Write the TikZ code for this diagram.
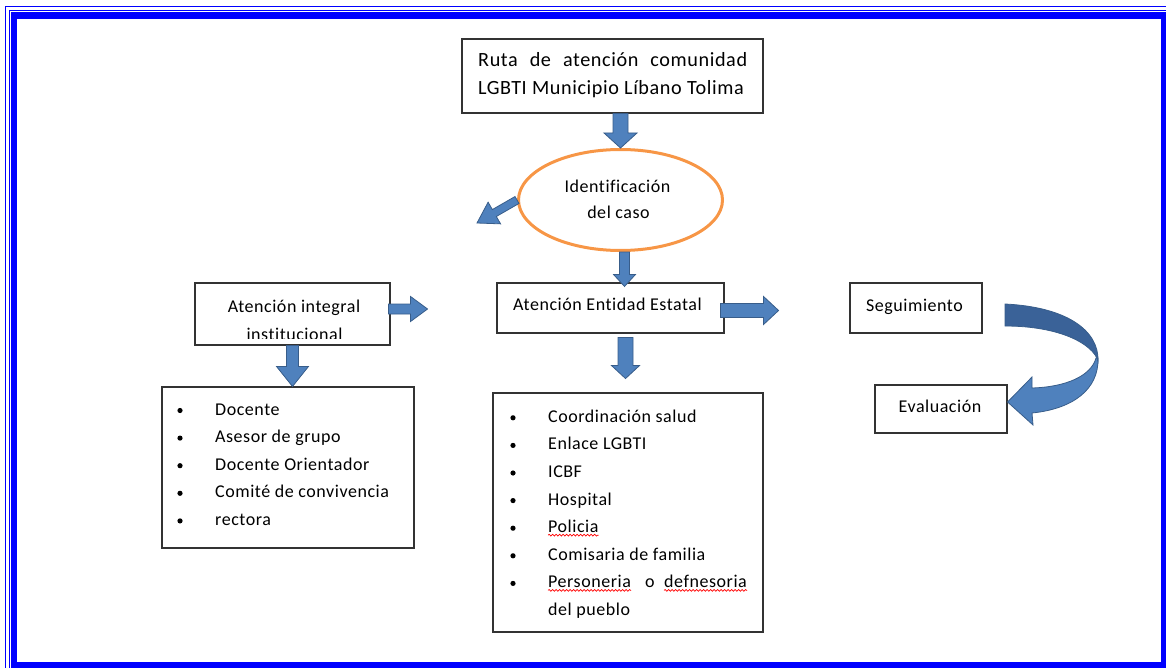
\documentclass[tikz,border=0pt]{standalone}
\usepackage{fontspec}
\setmainfont{Carlito}[LetterSpace=3, Ligatures=NoCommon]
\usetikzlibrary{shapes.geometric,calc,decorations.pathmorphing}

\definecolor{frameblue}{RGB}{0,0,255}
\definecolor{arrowblue}{RGB}{79,129,189}
\definecolor{arrowedge}{RGB}{56,93,138}
\definecolor{ribbondark}{RGB}{58,98,152}
\definecolor{ovalorange}{RGB}{247,150,70}

% block arrow: from, to, shaft half-width, head half-width, head length
\newcommand\blockarrow[5]{%
  \coordinate (headbase) at ($(#2)!#5!(#1)$);
  \filldraw[barrow] ($(#1)!#3!90:(#2)$) -- ($(headbase)!#3!90:(#2)$)
    -- ($(headbase)!#4!90:(#2)$) -- (#2) -- ($(headbase)!#4!-90:(#2)$)
    -- ($(headbase)!#3!-90:(#2)$) -- ($(#1)!#3!-90:(#2)$) -- cycle;}

\begin{document}
\begin{tikzpicture}[x=1pt,y=-1pt,
  box/.style={draw=black!80, line width=1.1pt, rectangle, inner sep=0pt},
  txt/.style={font=\fontsize{18}{22}\selectfont, inner sep=0pt},
  bigtxt/.style={font=\fontsize{20.2}{24}\selectfont, inner sep=0pt},
  barrow/.style={fill=arrowblue, draw=arrowedge, line width=0.8pt, line join=miter},
  wavy/.style={draw=red, line width=0.7pt, decorate,
    decoration={snake, amplitude=0.9pt, segment length=3.5pt}}]

\useasboundingbox (0,0) rectangle (1166,668);
\clip (0,0) rectangle (1166,668);

% page frame
\draw[frameblue, line width=1.3pt] (5.5,6.5) rectangle (1175,676);
\draw[frameblue, line width=1pt] (9.5,10.5) rectangle (1171,672);
\draw[frameblue, line width=6.5pt] (14,15.5) rectangle (1164.5,665.5);

% title
\node[box, minimum width=301pt, minimum height=74pt] (title) at (612.5,76) {};
\node[bigtxt, anchor=base west] (t1) at (478,67) {\makebox[269pt][s]{Ruta de atención comunidad}};
\node[bigtxt, anchor=base west] (t2) at (478,95) {LGBTI Municipio Líbano Tolima};

% identification oval
\node[ellipse, draw=ovalorange, line width=3pt, minimum width=204pt,
      minimum height=101pt, inner sep=0pt] (ell) at (620.5,200) {};
\node[txt, anchor=base] (e1) at (617.5,193) {Identificación};
\node[txt, anchor=base] (e2) at (618.5,219) {del caso};

% institutional care
\node[box, minimum width=195pt, minimum height=62pt] (integ) at (292.5,314) {};
\node[txt, anchor=base] (i1) at (294,312) {Atención integral};
\begin{scope}
  \clip (200,318) rectangle (385,338);
  \node[txt, anchor=base] (i2) at (294.5,340.5) {institucional};
\end{scope}

% state entity
\node[box, minimum width=227pt, minimum height=50pt] (entidad) at (610.5,308) {};
\node[txt, anchor=base west] (en) at (513,310) {Atención Entidad Estatal};

% follow-up and evaluation
\node[box, minimum width=132pt, minimum height=50pt] (seg) at (916,308) {};
\node[txt, anchor=base] (segt) at (914.5,311) {Seguimiento};
\node[box, minimum width=132pt, minimum height=48pt] (eval) at (941,409) {};
\node[txt, anchor=base] (evalt) at (940,412) {Evaluación};

% lists
\node[box, minimum width=252pt, minimum height=161pt] (listL) at (288,467.5) {};
\node[box, minimum width=270pt, minimum height=239pt] (listM) at (628,512.5) {};

\foreach \entry [count=\k from 0] in {Docente, Asesor de grupo, Docente Orientador,
    Comité de convivencia, rectora} {
  \node[txt, anchor=base west] (l\k) at (215,{415+27.6*\k}) {\entry};
  \fill (180,{410.5+27.6*\k}) circle (2.6pt);
}

\foreach \entry [count=\k from 0] in {Coordinación salud, Enlace LGBTI, ICBF, Hospital} {
  \node[txt, anchor=base west] (m\k) at (548,{422.3+27.6*\k}) {\entry};
}
\node[txt, anchor=base west] (pol) at (548,532.7) {Policia};
\node[txt, anchor=base west] (com) at (548,560.3) {Comisaria de familia};
\node[txt, anchor=base west] (per) at (548,587.9) {Personeria};
\node[txt, anchor=base west] (oo) at (645,587.9) {o};
\node[txt, anchor=base east] (def) at (747,587.9) {defnesoria};
\node[txt, anchor=base west] (pue) at (548,615.5) {del pueblo};
\foreach \k in {0,...,6} {
  \fill (513,{417.8+27.6*\k}) circle (2.6pt);
}
\draw[wavy] ([yshift=-2.5pt]pol.base west) -- ([yshift=-2.5pt]pol.base east);
\draw[wavy] ([yshift=-2.5pt]per.base west) -- ([yshift=-2.5pt]per.base east);
\draw[wavy] ([yshift=-2.5pt]def.base west) -- ([yshift=-2.5pt]def.base east);

% arrow ends
\coordinate (a1s) at (title.south -| ell.north);
\coordinate (dtip) at (477,223);
\coordinate (a3e) at ($(entidad.north)+(14,4)$);
\coordinate (a3s) at (ell.south -| a3e);
\coordinate (a4s) at ($(entidad.east)+(-4,2.5)$);
\coordinate (a4e) at ($(entidad.east)+(54,2.5)$);
\coordinate (a5s) at ($(entidad.south)+(15,4)$);
\coordinate (a5e) at ($(entidad.south)+(15,45)$);
\coordinate (a6s) at ($(integ.east)+(-2,-5)$);
\coordinate (a6e) at ($(integ.east)+(37,-5)$);
\coordinate (a7e) at (integ.south |- listL.north);

% block arrows
\blockarrow{a1s}{ell.north}{7.5pt}{16.5pt}{15pt}
\blockarrow{ell.west}{dtip}{4pt}{12.5pt}{20pt}
\blockarrow{a3s}{a3e}{5pt}{11pt}{12pt}
\blockarrow{a4s}{a4e}{7pt}{14pt}{15pt}
\blockarrow{a5s}{a5e}{7.5pt}{14pt}{13pt}
\blockarrow{a6s}{a6e}{5pt}{12.5pt}{17pt}
\blockarrow{integ.south}{a7e}{6pt}{16pt}{20pt}

% curved arrow from follow-up to evaluation
\coordinate (rtip) at ($(eval.east)+(0,-7)$);
\filldraw[fill=arrowblue, draw=arrowedge, line width=0.8pt, line join=miter]
  (1096,358) .. controls (1091,376) and (1066,387) .. (1032,388)
  -- (1032,377) -- (rtip) -- (1033,425) -- (1032,413)
  .. controls (1072,409) and (1099,390) .. (1098,358) -- cycle;
\filldraw[fill=ribbondark, draw=arrowedge, line width=0.8pt, line join=miter]
  (1005,304) .. controls (1066,307) and (1099,330) .. (1098,361)
  .. controls (1093,344) and (1060,326) .. (1005,326) -- cycle;
\end{tikzpicture}
\end{document}
